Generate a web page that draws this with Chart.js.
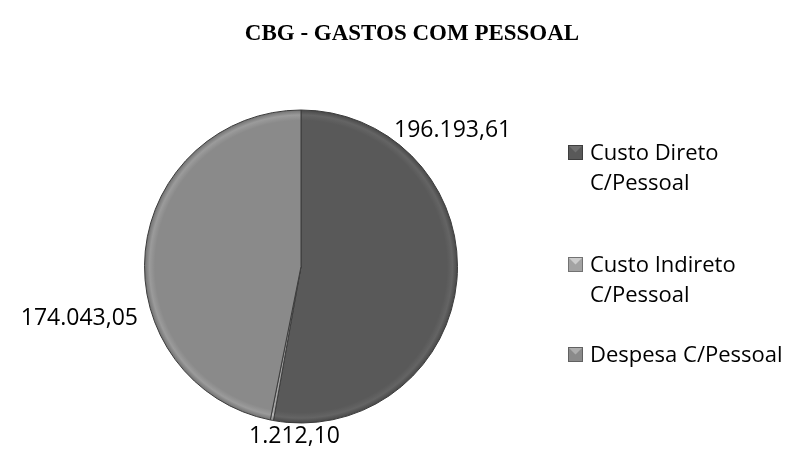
<!DOCTYPE html>
<html>
<head>
<meta charset="utf-8">
<script src="https://cdn.jsdelivr.net/npm/chart.js@4/dist/chart.umd.min.js"></script>
<style>
  html, body { margin: 0; padding: 0; background: #ffffff; }
  #wrap { width: 793px; height: 457px; }
</style>
</head>
<body>
<div id="wrap"><canvas id="c" width="793" height="457"></canvas></div>
<script>
// ---- data ----
const chartTitle = 'CBG - GASTOS COM PESSOAL';
const categories = ['Custo Direto C/Pessoal', 'Custo Indireto C/Pessoal', 'Despesa C/Pessoal'];
const values = [196193.61, 1212.10, 174043.05];
const valueLabels = ['196.193,61', '1.212,10', '174.043,05'];

// ---- styles ----
const sliceColors = ['#595959', '#a3a3a3', '#8a8a8a'];
const labelFont = '23px "Open Sans", "Liberation Sans", sans-serif';
const legendFont = '22px "Open Sans", "Liberation Sans", sans-serif';
const titleFont = 'bold 23px "Liberation Serif", "DejaVu Serif", serif';
// label placement: angle (deg, canvas convention) and distance in radii
const labelPlacement = [
  { angle: -42.2, dist: 1.308 },
  { angle: 92.2, dist: 1.083 },
  { angle: 167.1, dist: 1.453 }
];

function shade(hex, f) {
  const n = parseInt(hex.slice(1), 16);
  let r = (n >> 16) & 255, g = (n >> 8) & 255, b = n & 255;
  const m = v => Math.max(0, Math.min(255, Math.round(v * f)));
  return 'rgb(' + m(r) + ',' + m(g) + ',' + m(b) + ')';
}

function sliceFill(ctx) {
  const chart = ctx.chart;
  const ca = chart.chartArea;
  const base = sliceColors[ctx.dataIndex];
  if (!ca || !isFinite(ca.left) || !isFinite(ca.right)) return base;
  const cx = (ca.left + ca.right) / 2, cy = (ca.top + ca.bottom) / 2;
  const R = Math.min(ca.right - ca.left, ca.bottom - ca.top) / 2;
  if (!(R > 0)) return base;
  const g = chart.ctx.createRadialGradient(cx, cy, 0, cx, cy, R);
  g.addColorStop(0, base);
  g.addColorStop(0.93, base);
  g.addColorStop(0.965, shade(base, 1.12));
  g.addColorStop(1, shade(base, 0.78));
  return g;
}

const overlay = {
  id: 'overlay',
  afterDraw(chart) {
    const ctx = chart.ctx;
    const meta = chart.getDatasetMeta(0);
    const arc0 = meta.data[0];
    const cx = arc0.x, cy = arc0.y, R = arc0.outerRadius;
    ctx.save();
    // title
    ctx.fillStyle = '#000';
    ctx.font = titleFont;
    ctx.textAlign = 'center';
    ctx.textBaseline = 'alphabetic';
    ctx.fillText(chartTitle, 412, 40);

    // value labels
    ctx.font = labelFont;
    ctx.textAlign = 'center';
    ctx.textBaseline = 'middle';
    valueLabels.forEach((t, i) => {
      const p = labelPlacement[i];
      const a = p.angle * Math.PI / 180;
      ctx.fillText(t, cx + Math.cos(a) * R * p.dist, cy + Math.sin(a) * R * p.dist + 1);
    });

    // legend
    ctx.font = legendFont;
    const lx = 568, tx = 590, maxW = 210, lineH = 30;
    const itemTops = [160, 272, 362];
    ctx.textAlign = 'left';
    ctx.textBaseline = 'alphabetic';
    categories.forEach((name, i) => {
      const words = name.split(' ');
      const lines = [];
      let cur = '';
      words.forEach(w => {
        const test = cur ? cur + ' ' + w : w;
        if (ctx.measureText(test).width > maxW && cur) { lines.push(cur); cur = w; }
        else cur = test;
      });
      lines.push(cur);
      const b = itemTops[i];
      const sx = lx, sy = b - 15, s = 15;
      ctx.fillStyle = sliceColors[i];
      ctx.fillRect(sx, sy, s, s);
      ctx.fillStyle = shade(sliceColors[i], 1.25);
      ctx.beginPath();
      ctx.moveTo(sx, sy); ctx.lineTo(sx + s, sy); ctx.lineTo(sx + s / 2, sy + s / 2); ctx.closePath();
      ctx.fill();
      ctx.strokeStyle = shade(sliceColors[i], 0.7);
      ctx.lineWidth = 1;
      ctx.strokeRect(sx + 0.5, sy + 0.5, s - 1, s - 1);
      ctx.fillStyle = '#000';
      lines.forEach((ln, k) => ctx.fillText(ln, tx, b + k * lineH));
    });
    ctx.restore();
  }
};

new Chart(document.getElementById('c'), {
  type: 'pie',
  data: {
    labels: categories,
    datasets: [{
      data: values,
      backgroundColor: sliceFill,
      borderColor: '#3c3c3c',
      borderWidth: 1
    }]
  },
  options: {
    responsive: false,
    maintainAspectRatio: false,
    animation: false,
    layout: { padding: { left: 144, right: 335, top: 109, bottom: 33 } },
    plugins: {
      legend: { display: false },
      title: { display: false },
      tooltip: { enabled: false }
    }
  },
  plugins: [overlay]
});
</script>
</body>
</html>
